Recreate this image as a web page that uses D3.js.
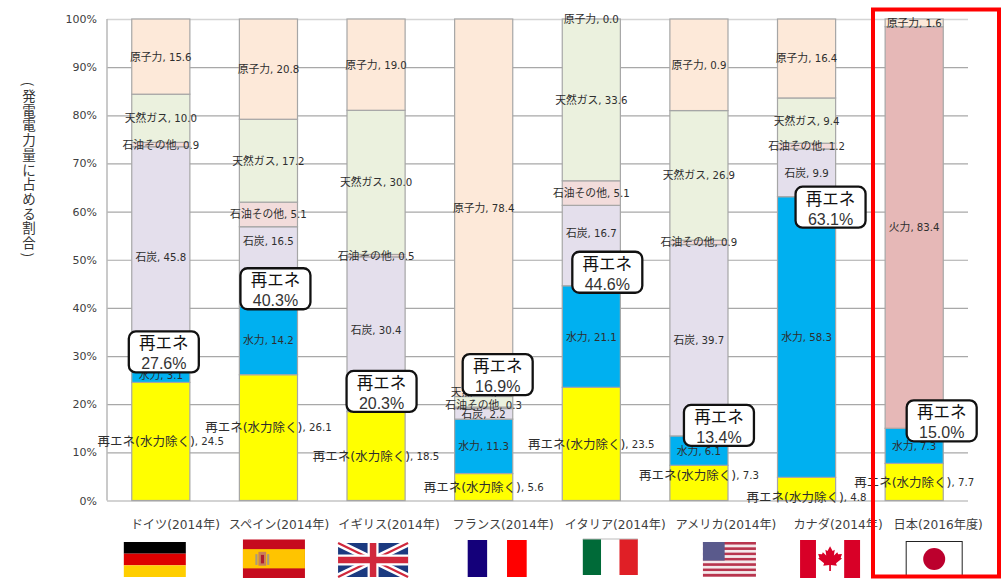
<!DOCTYPE html>
<html lang="ja">
<head>
	<meta charset="UTF-8">
	<script src="https://d3js.org/d3.v7.min.js"></script>
	<title>発電電力量に占める割合</title>
	<style type="text/css">
		body { margin: 0; background: #fff; }
		svg { display: block; }
		text { font-family: "DejaVu Sans", "Noto Sans CJK JP", sans-serif; }
		.tick text { font-size: 11px; fill: #404040; }
		.seglabel { fill: #2e2e2e; text-anchor: middle; dominant-baseline: central; }
		.catlabel { font-size: 12.2px; fill: #404040; text-anchor: middle; }
		.callout text { text-anchor: middle; fill: #111; }
		.callout .pct { font-family: "Liberation Sans", sans-serif; font-size: 16px; fill: #333; }
		.ytitle { font-family: "Noto Sans CJK JP", sans-serif; font-size: 13.5px; fill: #333; text-anchor: middle; dominant-baseline: central; }
	</style>
</head>
<body>
<svg width="1001" height="579"></svg>
<script>
// values, % of generated power
var countries = ["ドイツ(2014年)", "スペイン(2014年)", "イギリス(2014年)", "フランス(2014年)", "イタリア(2014年)", "アメリカ(2014年)", "カナダ(2014年)", "日本(2016年度)"];
var renewable = [24.5, 26.1, 18.5, 5.6, 23.5, 7.3, 4.8, 7.7];
var hydro     = [3.1, 14.2, 1.8, 11.3, 21.1, 6.1, 58.3, 7.3];
var coal      = [45.8, 16.5, 30.4, 2.2, 16.7, 39.7, 9.9, null];
var oil       = [0.9, 5.1, 0.5, 0.3, 5.1, 0.9, 1.2, null];
var gas       = [10.0, 17.2, 30.0, 2.2, 33.6, 26.9, 9.4, null];
var thermal   = [null, null, null, null, null, null, null, 83.4];
var nuclear   = [15.6, 20.8, 19.0, 78.4, 0.0, 19.0, 16.4, 1.6];
// the source prints 0.9 on the American nuclear segment although it is drawn about 19 tall
var nuclearPrinted = [15.6, 20.8, 19.0, 78.4, 0.0, 0.9, 16.4, 1.6];
var yTicks = [0, 0.1, 0.2, 0.3, 0.4, 0.5, 0.6, 0.7, 0.8, 0.9, 1];

var series = [
	{ name: "再エネ(水力除く)", values: renewable, printed: renewable, color: "#ffff00" },
	{ name: "水力", values: hydro, printed: hydro, color: "#00b0f0" },
	{ name: "石炭", values: coal, printed: coal, color: "#e4dfec" },
	{ name: "石油その他", values: oil, printed: oil, color: "#f2dcdb" },
	{ name: "天然ガス", values: gas, printed: gas, color: "#ebf1de" },
	{ name: "火力", values: thermal, printed: thermal, color: "#e6b8b7" },
	{ name: "原子力", values: nuclear, printed: nuclearPrinted, color: "#fde9d9" }
];

var svg = d3.select("svg");
var left = 107, right = 968, top_ = 19, bottom = 500.5;

var x = d3.scaleBand().domain(countries).range([left, right]).paddingInner(0.46).paddingOuter(0.23);
var y = d3.scaleLinear().domain([0, 1]).range([bottom, top_]);

var table = countries.map(function(c, i) {
	var row = { country: c };
	series.forEach(function(s) { row[s.name] = s.values[i] || 0; });
	return row;
});
var stacked = d3.stack()
	.keys(series.map(function(s) { return s.name; }))
	.offset(d3.stackOffsetExpand)(table);

// y axis doubles as the gridlines
var axis = svg.append("g")
	.attr("transform", "translate(" + left + ",0)")
	.call(d3.axisLeft(y).tickValues(yTicks).tickFormat(d3.format(".0%")).tickSize(-(right - left)).tickPadding(10));
axis.select(".domain").remove();
axis.selectAll(".tick line").attr("stroke", "#a8a8a8").attr("stroke-width", 1.2);
axis.selectAll(".tick").filter(function(d) { return d === 1; }).select("line").attr("stroke", "#d4d4d4").attr("stroke-width", 1.5);

svg.append("line").attr("x1", left).attr("x2", left).attr("y1", top_).attr("y2", bottom)
	.attr("stroke", "#b8b8b8").attr("stroke-width", 1.5);

// bars
stacked.forEach(function(layer, k) {
	svg.append("g").selectAll("rect")
		.data(layer.filter(function(d) { return d[1] > d[0]; }))
		.enter().append("rect")
		.attr("x", function(d) { return x(d.data.country); })
		.attr("y", function(d) { return y(d[1]); })
		.attr("width", x.bandwidth())
		.attr("height", function(d) { return y(d[0]) - y(d[1]); })
		.attr("fill", series[k].color)
		.attr("stroke", "#a6a6a6")
		.attr("stroke-width", 1.2);
});

// segment labels sit at the segment middle, a few were moved by hand in the source
var nudge = {
	"再エネ(水力除く)|1": -11, "再エネ(水力除く)|5": -8, "再エネ(水力除く)|6": 8,
	"天然ガス|3": -10, "石油その他|3": -3, "石炭|1": -25, "石炭|4": -12.5
};
stacked.forEach(function(layer, k) {
	var s = series[k];
	layer.forEach(function(d, i) {
		if (s.printed[i] === null) return;
		var t = svg.append("text")
			.attr("class", "seglabel")
			.attr("x", x(countries[i]) + x.bandwidth() / 2)
			.attr("y", y((d[0] + d[1]) / 2) + (nudge[s.name + "|" + i] || 0));
		t.append("tspan").attr("font-size", k === 0 ? 12.5 : 10.8).text(s.name);
		t.append("tspan").attr("font-size", 10.2).text(", " + s.printed[i].toFixed(1));
	});
});

// 再エネ callouts, offset from the band centre and the top of the renewable part
var calloutDx = [3, 7, 5.5, 14, 16, 20, 24, 27.5];
var calloutDy = [-36, -38, -32, -65, -34, -31, -10, -28];
var boxW = 70, boxH = 41;
countries.forEach(function(c, i) {
	var total = renewable[i] + hydro[i];
	var cx = x(c) + x.bandwidth() / 2 + calloutDx[i];
	var ty = y(stacked[1][i][1]) + calloutDy[i];
	var g = svg.append("g").attr("class", "callout");
	g.append("rect").attr("x", cx - boxW / 2).attr("y", ty).attr("width", boxW).attr("height", boxH)
		.attr("rx", 7).attr("fill", "#fff").attr("stroke", "#111").attr("stroke-width", 2.3);
	g.append("text").attr("x", cx).attr("y", ty + 18).attr("font-size", 16.5).text("再エネ");
	g.append("text").attr("class", "pct").attr("x", cx).attr("y", ty + 38).text(total.toFixed(1) + "%");
});

// y title, one glyph at a time so the parens can be turned
var yTitle = Array.from("発電電力量に占める割合");
yTitle.forEach(function(ch, i) {
	svg.append("text")
		.attr("class", "ytitle")
		.attr("transform", "translate(29," + (95 + i * 14.7) + ")")
		.text(ch);
});
[["(", 84], [")", 255]].forEach(function(p) {
	svg.append("text")
		.attr("class", "ytitle")
		.attr("transform", "translate(29," + p[1] + ") rotate(90)")
		.text(p[0]);
});

// category names and flags were pasted in by hand so they drift right of the bars
var catDx = [14.5, 10.5, 13, 19.5, 24, 27, 31.5, 24];
var flagDx = [-6, 5.5, -3, 13.5, 19, 30.5, 23.5, 20];
var flagW = [62, 62, 70, 59, 55, 53, 60, 57];
var flagH = [35, 38.5, 34, 37, 36, 34.5, 38, 36];
var flagTop = [542, 539.5, 543, 540, 539, 542, 540, 541];

svg.append("g").selectAll("text")
	.data(countries).enter().append("text")
	.attr("class", "catlabel")
	.attr("x", function(d, i) { return x(d) + x.bandwidth() / 2 + catDx[i]; })
	.attr("y", 529)
	.text(function(d) { return d; });

var maple = "M0,-15 L3,-9.5 L5.5,-11 L4.5,-4 L8.5,-8 L9.5,-5.5 L14,-6 L12.5,-1.5 L14,-0.5 L7,5 L8,8 L1,7 L1,14 L-1,14 L-1,7 L-8,8 L-7,5 L-14,-0.5 L-12.5,-1.5 L-14,-6 L-9.5,-5.5 L-8.5,-8 L-4.5,-4 L-5.5,-11 L-3,-9.5 Z";

var flagDraw = [
	function(g, w, h) { // germany
		["#000000", "#dd0000", "#ffce00"].forEach(function(c, i) {
			g.append("rect").attr("y", i * h / 3).attr("width", w).attr("height", h / 3).attr("fill", c);
		});
	},
	function(g, w, h) { // spain
		g.append("rect").attr("width", w).attr("height", h).attr("fill", "#c60b1e");
		g.append("rect").attr("y", h / 4).attr("width", w).attr("height", h / 2).attr("fill", "#ffc400");
		g.append("rect").attr("x", w * 0.2).attr("y", h * 0.38).attr("width", w * 0.035).attr("height", h * 0.28).attr("fill", "#a89a80");
		g.append("rect").attr("x", w * 0.39).attr("y", h * 0.38).attr("width", w * 0.035).attr("height", h * 0.28).attr("fill", "#a89a80");
		g.append("rect").attr("x", w * 0.25).attr("y", h * 0.32).attr("width", w * 0.125).attr("height", h * 0.36).attr("fill", "#c8805a");
		g.append("rect").attr("x", w * 0.29).attr("y", h * 0.4).attr("width", w * 0.05).attr("height", h * 0.22).attr("fill", "#b01e2e");
	},
	function(g, w, h) { // uk
		g.append("rect").attr("width", w).attr("height", h).attr("fill", "#1b3a80");
		g.append("path").attr("d", "M0,0L" + w + "," + h + "M" + w + ",0L0," + h).attr("stroke", "#fff").attr("stroke-width", 7);
		g.append("path").attr("d", "M0,0L" + w + "," + h + "M" + w + ",0L0," + h).attr("stroke", "#d0283c").attr("stroke-width", 2.2);
		g.append("path").attr("d", "M" + w / 2 + ",0V" + h + "M0," + h / 2 + "H" + w).attr("stroke", "#fff").attr("stroke-width", 11);
		g.append("path").attr("d", "M" + w / 2 + ",0V" + h + "M0," + h / 2 + "H" + w).attr("stroke", "#d0283c").attr("stroke-width", 6.5);
	},
	function(g, w, h) { // france
		["#14007a", "#ffffff", "#ff0000"].forEach(function(c, i) {
			g.append("rect").attr("x", i * w / 3).attr("width", w / 3).attr("height", h).attr("fill", c);
		});
	},
	function(g, w, h) { // italy
		["#006a38", "#ffffff", "#e01f26"].forEach(function(c, i) {
			g.append("rect").attr("x", i * w / 3).attr("width", w / 3).attr("height", h).attr("fill", c);
		});
		g.append("line").attr("x1", 0).attr("x2", w).attr("y1", 0).attr("y2", 0).attr("stroke", "#bbb").attr("stroke-width", 1);
	},
	function(g, w, h) { // usa
		g.selectAll("rect.s").data(d3.range(13)).enter().append("rect")
			.attr("y", function(d) { return d * h / 13; })
			.attr("width", w).attr("height", h / 13 + 0.2)
			.attr("fill", function(d) { return d % 2 ? "#f4eaec" : "#b8354e"; });
		g.append("rect").attr("width", w * 0.41).attr("height", h * 7 / 13).attr("fill", "#5a5a8c");
	},
	function(g, w, h) { // canada
		g.append("rect").attr("width", w).attr("height", h).attr("fill", "#fff");
		g.append("rect").attr("width", w * 0.265).attr("height", h).attr("fill", "#d80027");
		g.append("rect").attr("x", w * 0.735).attr("width", w * 0.265).attr("height", h).attr("fill", "#d80027");
		g.append("path").attr("transform", "translate(" + w / 2 + "," + h * 0.5 + ") scale(0.85)").attr("d", maple).attr("fill", "#d80027");
	},
	function(g, w, h) { // japan
		g.append("rect").attr("x", 0.5).attr("y", 0.5).attr("width", w - 1).attr("height", h - 1).attr("fill", "#fff").attr("stroke", "#222").attr("stroke-width", 1);
		g.append("circle").attr("cx", w / 2).attr("cy", h / 2).attr("r", 11).attr("fill", "#bc002d");
	}
];

countries.forEach(function(c, i) {
	var fx = x(c) + x.bandwidth() / 2 + flagDx[i] - flagW[i] / 2;
	var g = svg.append("g").attr("transform", "translate(" + fx + "," + flagTop[i] + ")");
	flagDraw[i](g, flagW[i], flagH[i]);
});

// red frame around japan
svg.append("rect").attr("x", 873).attr("y", 9.5).attr("width", 126).attr("height", 567)
	.attr("fill", "none").attr("stroke", "#ff0000").attr("stroke-width", 4);
</script>
</body>
</html>
